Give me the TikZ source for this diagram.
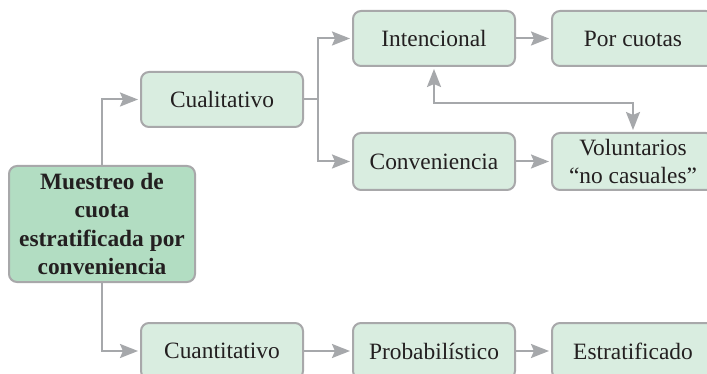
\documentclass[tikz,border=0pt]{standalone}
\usepackage{fontspec}
\setmainfont{Liberation Serif}
\usetikzlibrary{arrows.meta}
\definecolor{boxfill}{RGB}{217,237,224}
\definecolor{mainfill}{RGB}{178,221,194}
\definecolor{edgegray}{RGB}{168,168,170}
\definecolor{linegray}{RGB}{166,168,171}
\definecolor{textdark}{RGB}{35,31,32}
\tikzset{
  box/.style={draw=edgegray, line width=2pt, fill=boxfill, rounded corners=8pt,
    minimum width=162pt, minimum height=55pt, inner sep=0pt, align=center,
    text=textdark, font=\fontsize{23.4}{28.3}\selectfont},
  mainbox/.style={box, fill=mainfill, minimum width=186pt, minimum height=116pt,
    font=\fontsize{23.4}{28.3}\selectfont\bfseries},
  tip/.tip={Stealth[length=18pt,width=14pt,inset=3pt]},
  conn/.style={draw=linegray, line width=2pt, -tip, shorten >=2pt},
  dconn/.style={conn, tip-tip, shorten <=2pt},
  plain/.style={draw=linegray, line width=2pt}
}
\begin{document}
\begin{tikzpicture}[x=1pt,y=-1pt]
\path[use as bounding box] (0,0) rectangle (707,374);
\clip (0,0) rectangle (707,374);
\fill[white] (0,0) rectangle (707,374);

\node[mainbox] (main) at (102,224) {Muestreo de\\cuota\\estratificada por\\conveniencia};
\node[box] (cuali) at (222,99.5) {Cualitativo};
\node[box] (inten) at (434,38.5) {Intencional};
\node[box] (cuotas) at (633,38.5) {Por cuotas};
\node[box, minimum height=57pt] (conv) at (434,161.5) {Conveniencia};
\node[box, minimum height=57pt] (volun) at (633,161.5) {Voluntarios\\``no casuales''};
\node[box, minimum height=56pt] (cuanti) at (222,351) {Cuantitativo};
\node[box, minimum height=56pt] (proba) at (434,351) {Probabilístico};
\node[box, minimum height=56pt] (estra) at (633,351) {Estratificado};

\coordinate (split) at (318,99.5);
\coordinate (dleft) at (434,103);
\coordinate (dright) at (633,103);

\draw[conn] (main.north) |- (cuali.west);
\draw[conn] (main.south) |- (cuanti.west);
\draw[plain] (cuali.east) -- (split);
\draw[conn] (split) |- (inten.west);
\draw[conn] (split) |- (conv.west);
\draw[conn] (inten) -- (cuotas);
\draw[conn] (conv) -- (volun);
\draw[dconn] (inten.south) -- (dleft) -- (dright) -- (volun.north);
\draw[conn] (cuanti) -- (proba);
\draw[conn] (proba) -- (estra);
\end{tikzpicture}
\end{document}
